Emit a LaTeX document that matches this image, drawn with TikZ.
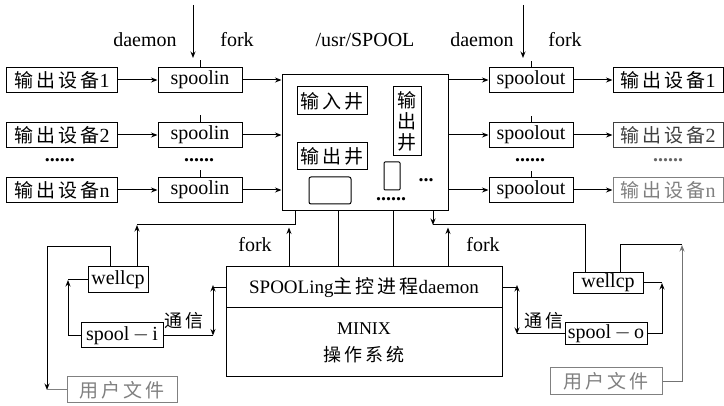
\documentclass[tikz,border=0pt]{standalone}
\usepackage{fontspec}
\setmainfont{Liberation Serif}
\newfontfamily\cjk[LetterSpace=16]{Noto Sans CJK SC}
\usetikzlibrary{arrows.meta}
\begin{document}
\begin{tikzpicture}[x=1pt,y=-1pt,
  box/.style={draw,line width=1pt,inner sep=0pt,minimum height=25pt,font=\fontsize{20}{22}\selectfont},
  ln/.style={line width=1pt},
  arr/.style={ln,-{Stealth[length=6.5pt,width=5pt]}},
  darr/.style={ln,{Stealth[length=6.5pt,width=5pt]}-{Stealth[length=6.5pt,width=5pt]}},
  lat/.style={inner sep=0pt,font=\fontsize{20}{22}\selectfont},
  dots/.style={inner sep=0pt,font=\fontsize{20}{20}\selectfont\bfseries},
  faint/.style={draw=black!50,text=black!50},
  mid/.style={draw=black!75,text=black!75}
]
\useasboundingbox[fill=white] (0,0) rectangle (724,406);

% top labels
\node[lat] (lda1) at (145,40) {daemon};
\node[lat] (lfk1) at (237,40) {fork};
\node[lat] (lusr) at (365,40) {/usr/SPOOL};
\node[lat] (lda2) at (482,40) {daemon};
\node[lat] (lfk2) at (565,40) {fork};
\coordinate (tA1) at (193,5);
\coordinate (tA2) at (193,58);
\coordinate (tB1) at (523,5);
\coordinate (tB2) at (523,58);
\draw[arr] (tA1) -- (tA2);
\draw[arr] (tB1) -- (tB2);

% left devices
\node[box,minimum width=111pt] (dL1) at (62,80) {{\cjk\fontsize{19}{22}\selectfont 输出设备}1};
\node[box,minimum width=111pt] (dL2) at (62,135) {{\cjk\fontsize{19}{22}\selectfont 输出设备}2};
\node[box,minimum width=111pt] (dLn) at (62,190) {{\cjk\fontsize{19}{22}\selectfont 输出设备}n};
\node[dots] (dotL1) at (60,160) {......};

% spoolin
\node[box,minimum width=84pt] (si1) at (200,80) {spoolin};
\node[box,minimum width=84pt] (si2) at (200,135) {spoolin};
\node[box,minimum width=84pt] (sin) at (200,190) {spoolin};
\node[dots] (dotL2) at (199,160) {......};
\foreach \n in {si1,si2,sin}{\draw[ln] (\n.north) -- ++(0,-7);}

% SPOOL box
\node[draw,line width=1pt,minimum width=166pt,minimum height=136pt] (spool) at (365,143) {};
\node[box,minimum width=70pt,minimum height=28pt] (inw) at (332,101) {\cjk\fontsize{19}{22}\selectfont 输入井};
\node[box,minimum width=70pt,minimum height=27pt] (outw) at (332,156.5) {\cjk\fontsize{19}{22}\selectfont 输出井};
\node[box,minimum width=28pt,minimum height=69pt,align=center,font=\fontsize{19}{21}\selectfont] (outv) at (407,121.5) {\cjk 输\\\cjk 出\\\cjk 井};
\node[draw,line width=1pt,rounded corners=2pt,minimum width=42pt,minimum height=27pt] (rA) at (330,190.5) {};
\node[draw,line width=1pt,rounded corners=1pt,minimum width=16pt,minimum height=28pt] (rB) at (392,176) {};
\node[dots] (dotS1) at (426,180) {...};
\node[dots] (dotS2) at (391,199) {......};

% spoolout
\node[box,minimum width=84pt] (so1) at (531,80) {spoolout};
\node[box,minimum width=84pt] (so2) at (531,135) {spoolout};
\node[box,minimum width=84pt] (son) at (531,190) {spoolout};
\node[dots] (dotR1) at (530,160) {......};
\foreach \n in {so1,so2,son}{\draw[ln] (\n.north) -- ++(0,-6);}

% right devices
\node[box,minimum width=110pt] (dR1) at (668,80) {{\cjk\fontsize{19}{22}\selectfont 输出设备}1};
\node[box,minimum width=110pt,mid] (dR2) at (668,135) {{\cjk\fontsize{19}{22}\selectfont 输出设备}2};
\node[box,minimum width=110pt,faint] (dRn) at (668,190) {{\cjk\fontsize{19}{22}\selectfont 输出设备}n};
\node[dots,text=black!60] (dotR2) at (668,160) {......};

% row arrows
\foreach \a/\b in {dL1/si1,dL2/si2,dLn/sin,so1/dR1,so2/dR2,son/dRn}{\draw[arr] (\a) -- (\b);}
\foreach \a in {si1,si2,sin}{\draw[arr] (\a.east) -- (\a.east -| spool.west);}
\foreach \b in {so1,so2,son}{\draw[arr] (spool.east |- \b.west) -- (\b.west);}

% control / MINIX
\node[box,minimum width=276pt,minimum height=41pt,font=\fontsize{19}{22}\selectfont] (ctrl) at (364,287.5) {SPOOLing{\cjk 主控进程}daemon};
\node[box,minimum width=276pt,minimum height=69pt,align=center,font=\fontsize{18}{27}\selectfont] (minix) at (364,342.5) {MINIX\\{\cjk 操作系统}};

\draw[ln] ([xshift=-27pt]spool.south) -- ([xshift=-27pt]spool.south |- ctrl.north);
\draw[ln] ([xshift=28pt]spool.south) -- ([xshift=28pt]spool.south |- ctrl.north);
\draw[arr] ([xshift=-75pt]ctrl.north) -- ++(0,-39);
\draw[arr] ([xshift=84pt]ctrl.north) -- ++(0,-39);
\node[lat] (lfk3) at (255,245) {fork};
\node[lat] (lfk4) at (483,245) {fork};

% left bottom
\node[box,minimum width=60pt,minimum height=26pt] (wL) at (118,280) {wellcp};
\node[box,minimum width=82pt,minimum height=25pt] (sI) at (122,335.5) {spool$\,-\,$i};
\node[box,minimum width=110pt,minimum height=26pt,faint] (uL) at (122,390) {\cjk\fontsize{19}{22}\selectfont 用户文件};

\coordinate (cL) at (137,225);
\coordinate (cL2) at (295,225);
\draw[arr] (wL.north -| cL) -- (cL);
\draw[ln] (cL) -- (cL2) -- (cL2 |- spool.south);

\coordinate (lA) at (68,280);
\draw[arr] (sI.west) -| (lA);
\draw[ln] (wL.west) -- (lA);
\coordinate (lB) at (47,247);
\draw[ln] ([xshift=-8pt]wL.north) |- (lB);
\draw[arr] (lB) -- (lB |- uL.west);
\draw[ln,black!50] (uL.west) -- (uL.west -| lB);

\coordinate (cT) at (213,285);
\coordinate (cB) at (213,335.5);
\draw[darr] (cT) -- (cB);
\draw[ln] (ctrl.west) -- (ctrl.west -| cT);
\draw[ln] (sI.east) -- (cB);
\node[lat,font=\fontsize{18}{20}\selectfont\cjk] (tx1) at (184,321) {通信};

% right bottom
\node[box,minimum width=70pt,minimum height=21pt] (wR) at (608,283) {wellcp};
\node[box,minimum width=82pt,minimum height=22pt] (sO) at (606,334) {spool$\,-\,$o};
\node[box,minimum width=112pt,minimum height=27pt,faint] (uR) at (606,381.5) {\cjk\fontsize{19}{22}\selectfont 用户文件};

\coordinate (cR) at (433,225);
\coordinate (cR2) at (585,225);
\draw[arr] (cR |- spool.south) -- (cR);
\draw[ln] (cR) -- (cR2) -- (cR2 |- wR.north);

\coordinate (rA) at (662,283);
\draw[arr] (sO.east) -| (rA);
\draw[ln] (wR.east) -- (rA);
\coordinate (rB) at (682,245);
\draw[ln] ([xshift=12pt]wR.north) |- (rB);
\draw[arr,black!55] (uR.east) -| (rB);

\coordinate (cT2) at (517,285);
\coordinate (cB2) at (517,334);
\draw[darr] (cT2) -- (cB2);
\draw[ln] (ctrl.east) -- (ctrl.east -| cT2);
\draw[ln] (sO.west) -- (cB2);
\node[lat,font=\fontsize{18}{20}\selectfont\cjk] (tx2) at (544,321) {通信};
\end{tikzpicture}
\end{document}
